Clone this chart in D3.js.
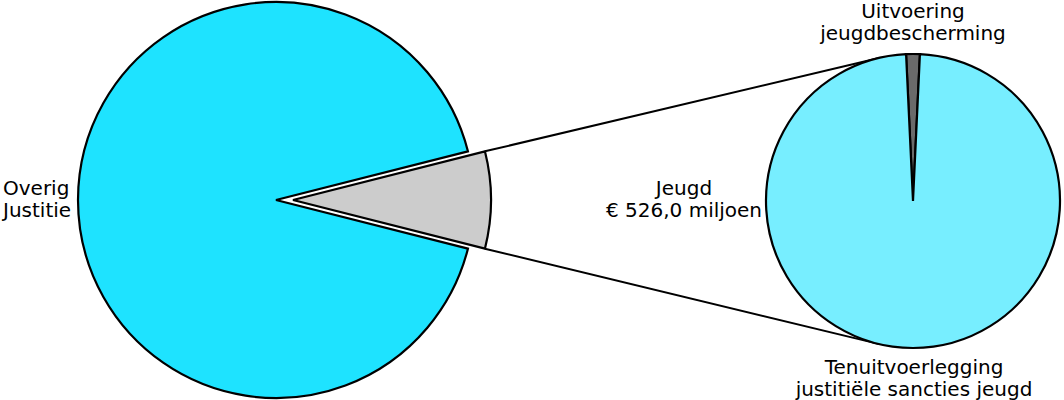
<!DOCTYPE html>
<html>
<head>
<meta charset="utf-8">
<script src="https://cdn.jsdelivr.net/npm/d3@7"></script>
<style>
body { margin: 0; background: #fff; }
text { font-family: "DejaVu Sans", sans-serif; font-size: 20px; fill: #000; }
</style>
</head>
<body>
<svg id="chart" width="1064" height="400"></svg>
<script>
// main pie: Justitie total, Jeugd part is pulled out
var main_names = ["Jeugd", "Overig Justitie"]
var main_values = [526.0, 6130]
var main_colors = ["#cccccc", "#1ee3ff"]

// detail pie of Jeugd
var sub_names = ["Uitvoering jeugdbescherming", "Tenuitvoerlegging justitiële sancties jeugd"]
var sub_values = [7.9, 518.1]
var sub_colors = ["#6a6a6a", "#77eeff"]

var svg = d3.select("#chart")

var big_cx = 276, big_cy = 200, big_r = 198
var small_cx = 913, small_cy = 201, small_r = 147
var explode = 17

var total = d3.sum(main_values)
var jeugd_angle = main_values[0] / total * 2 * Math.PI

// jeugd wedge centred on the right side (angle PI/2 in d3 terms)
var pie_main = d3.pie().sort(null).value(function(d){ return d })
    .startAngle(Math.PI/2 - jeugd_angle/2)
    .endAngle(Math.PI/2 - jeugd_angle/2 + 2*Math.PI)
var arc_big = d3.arc().innerRadius(0).outerRadius(big_r)

var main_arcs = pie_main(main_values)

var g_main = svg.append("g").attr("transform", "translate(" + big_cx + "," + big_cy + ")")
g_main.selectAll("path").data(main_arcs)
    .enter().append("path")
    .attr("d", arc_big)
    .attr("fill", function(d, i){ return main_colors[i] })
    .attr("stroke", "#000")
    .attr("stroke-width", 2.2)
    .attr("transform", function(d, i){
        if(i != 0) return null
        var mid = (d.startAngle + d.endAngle) / 2
        return "translate(" + (explode*Math.sin(mid)) + "," + (-explode*Math.cos(mid)) + ")"
    })

// corners of the pulled out wedge, in page coords
var j = main_arcs[0]
var ox = big_cx + explode*Math.sin((j.startAngle + j.endAngle)/2)
var oy = big_cy - explode*Math.cos((j.startAngle + j.endAngle)/2)
var corner_top = [ox + big_r*Math.sin(j.startAngle), oy - big_r*Math.cos(j.startAngle)]
var corner_bot = [ox + big_r*Math.sin(j.endAngle), oy - big_r*Math.cos(j.endAngle)]

function tangent_point(p, upper){
    var dx = small_cx - p[0], dy = small_cy - p[1]
    var d = Math.sqrt(dx*dx + dy*dy)
    var base = Math.atan2(dy, dx)
    var off = Math.asin(small_r / d)
    var dir = upper ? base - off : base + off
    var len = Math.sqrt(d*d - small_r*small_r)
    return [p[0] + len*Math.cos(dir), p[1] + len*Math.sin(dir)]
}

var connectors = [[corner_top, tangent_point(corner_top, true)], [corner_bot, tangent_point(corner_bot, false)]]
svg.selectAll("line.conn").data(connectors)
    .enter().append("line")
    .attr("class", "conn")
    .attr("x1", function(d){ return d[0][0] })
    .attr("y1", function(d){ return d[0][1] })
    .attr("x2", function(d){ return d[1][0] })
    .attr("y2", function(d){ return d[1][1] })
    .attr("stroke", "#000")
    .attr("stroke-width", 2)

// detail pie, small slice centred on top
var sub_total = d3.sum(sub_values)
var small_angle = sub_values[0] / sub_total * 2 * Math.PI
var pie_sub = d3.pie().sort(null).value(function(d){ return d })
    .startAngle(-small_angle/2)
    .endAngle(-small_angle/2 + 2*Math.PI)
var arc_small = d3.arc().innerRadius(0).outerRadius(small_r)

var g_sub = svg.append("g").attr("transform", "translate(" + small_cx + "," + small_cy + ")")
g_sub.selectAll("path").data(pie_sub(sub_values))
    .enter().append("path")
    .attr("d", arc_small)
    .attr("fill", function(d, i){ return sub_colors[i] })
    .attr("stroke", "#000")
    .attr("stroke-width", 2.2)

// labels
var labels = [
    {lines: ["Overig", "Justitie"], x: 3, y: 195, anchor: "start"},
    {lines: ["Jeugd", "€ 526,0 miljoen"], x: 684, y: 195, anchor: "middle"},
    {lines: ["Uitvoering", "jeugdbescherming"], x: 913, y: 18, anchor: "middle"},
    {lines: ["Tenuitvoerlegging", "justitiële sancties jeugd"], x: 914, y: 374, anchor: "middle"}
]
var lab = svg.selectAll("text.lab").data(labels)
    .enter().append("text")
    .attr("class", "lab")
    .attr("text-anchor", function(d){ return d.anchor })
lab.selectAll("tspan").data(function(d){ return d.lines.map(function(l, k){ return {t: l, x: d.x, y: d.y + k*22} }) })
    .enter().append("tspan")
    .attr("x", function(d){ return d.x })
    .attr("y", function(d){ return d.y })
    .text(function(d){ return d.t })
</script>
</body>
</html>
